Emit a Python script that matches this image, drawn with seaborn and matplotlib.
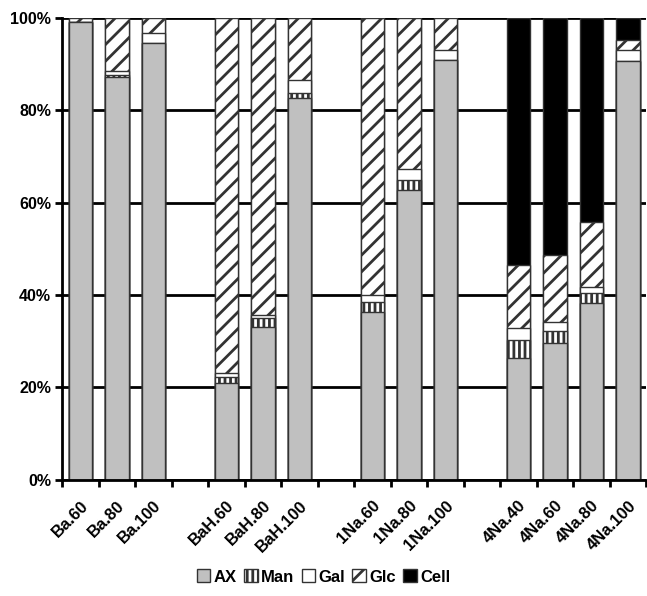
import numpy as np
import pandas as pd
import seaborn as sns
import matplotlib.pyplot as plt
import matplotlib.transforms as mtrans
from matplotlib.patches import Patch

# samples (blank strings are the gaps between the groups)
order = ['Ba.60', 'Ba.80', 'Ba.100', ' ',
         'BaH.60', 'BaH.80', 'BaH.100', '  ',
         '1Na.60', '1Na.80', '1Na.100', '   ',
         '4Na.40', '4Na.60', '4Na.80', '4Na.100']
samples = [s for s in order if s.strip()]

# composition in %
ax_vals = [99.1, 87.3, 94.6, 21.0, 33.1, 82.7, 36.4, 62.8, 90.9, 26.4, 29.7, 38.3, 90.7]
man_vals = [0.0, 0.3, 0.0, 1.3, 2.0, 1.1, 2.1, 2.0, 0.0, 3.9, 2.6, 2.2, 0.0]
gal_vals = [0.0, 1.0, 2.1, 0.9, 0.6, 2.8, 1.5, 2.5, 2.2, 2.6, 1.9, 1.3, 2.4]
glc_vals = [0.9, 11.4, 3.3, 76.8, 64.3, 13.4, 60.0, 32.7, 6.9, 13.6, 14.5, 14.0, 2.1]
cell_vals = [0.0, 0.0, 0.0, 0.0, 0.0, 0.0, 0.0, 0.0, 0.0, 53.5, 51.3, 44.2, 4.8]

df = pd.DataFrame({'sample': samples, 'AX': ax_vals, 'Man': man_vals,
                   'Gal': gal_vals, 'Glc': glc_vals, 'Cell': cell_vals})
parts = ['AX', 'Man', 'Gal', 'Glc', 'Cell']
cum = df[parts].cumsum(axis=1)

styles = {
    'AX': dict(color='#c0c0c0', hatch=None),
    'Man': dict(color='white', hatch='|||'),
    'Gal': dict(color='white', hatch=None),
    'Glc': dict(color='white', hatch='//'),
    'Cell': dict(color='black', hatch=None),
}

plt.rcParams['font.family'] = ['Liberation Sans', 'DejaVu Sans']
plt.rcParams['font.weight'] = 'bold'
plt.rcParams['hatch.linewidth'] = 2.0
plt.rcParams['hatch.color'] = 'black'

fig = plt.figure(figsize=(6.47, 5.96), dpi=100)
ax = fig.add_axes([0.096, 0.195, 0.903, 0.775])
ax.set_axisbelow(True)

# draw tallest cumulative first so each lower layer sits on top
for p in parts[::-1]:
    st = styles[p]
    kw = {}
    if st['hatch']:
        kw['hatch'] = st['hatch']
    sns.barplot(x=df['sample'], y=cum[p], order=order, color=st['color'],
                saturation=1, width=0.65, errorbar=None, edgecolor='#333333',
                linewidth=1, ax=ax, **kw)

ax.set_xlim(-0.5, len(order) - 0.5)
ax.set_ylim(0, 100)
ax.set_yticks(np.arange(0, 101, 20))
ax.set_yticklabels([f'{v}%' for v in range(0, 101, 20)], fontsize=11.5, fontweight='bold')
ax.yaxis.grid(True, color='black', linewidth=2)
ax.xaxis.grid(False)

# ticks between categories, labels under the bars
ax.set_xticks(np.arange(-0.5, len(order), 1.0))
ax.set_xticklabels([])
ax.set_xticks(np.arange(len(order)), minor=True)
ax.set_xticklabels(order, minor=True, rotation=45, ha='right',
                   rotation_mode='anchor', fontsize=12, fontweight='bold')
shift = mtrans.ScaledTranslation(-6 / 100, 0, fig.dpi_scale_trans)
for lab in ax.get_xticklabels(minor=True):
    lab.set_transform(lab.get_transform() + shift)
ax.tick_params(axis='x', which='minor', length=0, pad=13)
ax.tick_params(axis='x', which='major', length=5, width=2, direction='out')
ax.tick_params(axis='y', length=5, width=2, direction='out', pad=3)

ax.set_xlabel('')
ax.set_ylabel('')
for s in ['top', 'right']:
    ax.spines[s].set_visible(False)
for s in ['left', 'bottom']:
    ax.spines[s].set_linewidth(2)
    ax.spines[s].set_color('black')

handles = [Patch(facecolor=styles[p]['color'], edgecolor='#333333',
                 hatch=styles[p]['hatch'], label=p) for p in parts]
fig.legend(handles=handles, loc='center', bbox_to_anchor=(0.5, 0.032), ncol=5,
           frameon=False, handlelength=0.8, handleheight=0.8, handletextpad=0.2,
           columnspacing=0.45, prop={'weight': 'bold', 'size': 12})

fig.savefig('out.png', dpi=100)
